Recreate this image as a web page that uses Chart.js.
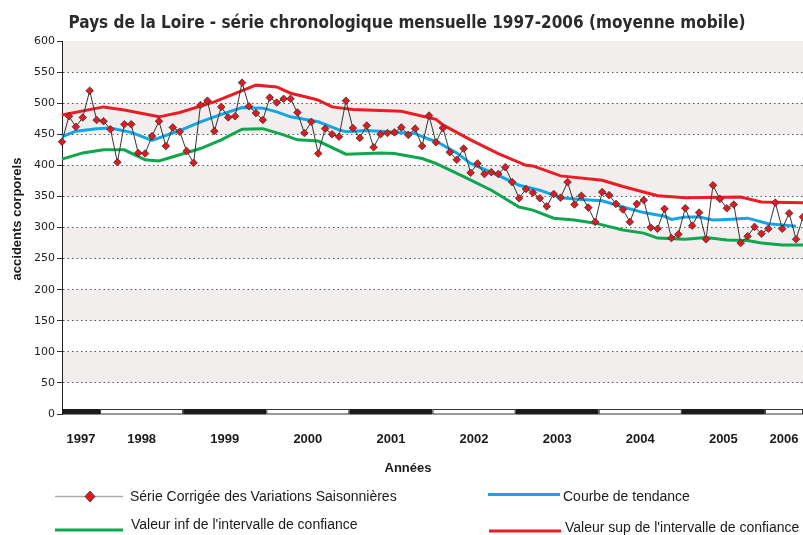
<!DOCTYPE html>
<html>
<head>
<meta charset="utf-8">
<script src="https://cdn.jsdelivr.net/npm/chart.js@4.4.1/dist/chart.umd.min.js"></script>
<style>
  html, body { margin: 0; padding: 0; background: #fff; }
  #wrap { width: 803px; height: 535px; position: relative; }
</style>
</head>
<body>
<div id="wrap"><canvas id="chart"></canvas></div>
<script>
// ============================================================
// Pays de la Loire — série mensuelle CVS + tendance (moyenne mobile)
// ============================================================

const _ = null; // mois sans sommet

const years      = ['1997', '1998', '1999', '2000', '2001', '2002', '2003', '2004', '2005', '2006'];
const firstMonth = 7;   // la série commence en juillet 1997
const yMax       = 600;
const yStep      = 50;

// Série corrigée des variations saisonnières (un point par mois)
const serieCVS = [
  438, 479, 462, 477, 520, 473,                               // 1997 (juil-déc)
  471, 458, 405, 466, 466, 420, 419, 447, 471, 431, 461, 454, // 1998
  423, 404, 497, 504, 455, 494, 477, 479, 533, 495, 484, 473, // 1999
  509, 501, 507, 507, 485, 452, 470, 419, 459, 450, 446, 504, // 2000
  460, 444, 464, 429, 450, 452, 453, 461, 449, 459, 431, 480, // 2001
  437, 460, 421, 409, 427, 388, 403, 386, 389, 386, 397, 373, // 2002
  347, 362, 356, 347, 334, 354, 348, 373, 337, 351, 332, 309, // 2003
  357, 352, 338, 329, 309, 338, 344, 300, 298, 330, 283, 289, // 2004
  331, 303, 324, 281, 368, 346, 331, 337, 275, 286, 301, 290, // 2005
  298, 340, 298, 323, 281, 317                                // 2006 (jan-juin)
];

// Courbe de tendance
const tendance = [
  446, _, 455, _, _, 459,
  _, 460, _, _, 453, _, _, 440, _, _, _, 456,
  _, _, 470, _, _, 482, _, _, 493, _, _, 492,
  _, 486, _, 478, _, 474, _, 470, _, _, 457, 454,
  _, _, 456, _, _, 454, _, _, _, 451, _, 442,
  439, _, _, 420, _, 403, _, _, _, 384, _, _,
  368, _, _, 360, _, _, 348, _, _, 345, _, _,
  343, _, _, 333, _, _, 324, _, _, 318, 313, _,
  317, _, 317, _, 312, _, 313, _, _, 315, _, _,
  306, _, _, _, 302, _
];

// Valeur inf de l'intervalle de confiance
const intervalleInf = [
  410, _, _, 420, _, _,
  425, _, _, 425, _, _, 409, _, 407, _, _, 417,
  _, _, 427, _, _, 441, _, _, 458, _, _, 459,
  _, _, 449, _, 441, _, _, 439, _, _, _, 418,
  _, _, _, _, 420, _, 419, _, _, _, 411, 407,
  403, _, _, _, 382, _, _, _, 360, _, _, _,
  333, _, 328, _, _, 315, _, _, 312, _, _, 307,
  _, _, _, 296, _, _, 291, _, 283, _, _, _,
  281, _, _, 284, _, _, 280, _, _, 279, _, 275,
  _, _, 272, _, _, 272
];

// Valeur sup de l'intervalle de confiance
const intervalleSup = [
  481, _, _, _, _, _,
  494, _, _, 489, _, _, _, _, 478, _, _, 485,
  _, _, _, _, 502, _, _, _, _, _, 529, _,
  _, 526, _, 516, _, _, 508, 505, _, 494, _, _,
  490, _, _, _, _, _, _, 487, _, _, _, _,
  474, 465, _, _, _, 441, _, _, _, 419, _, _,
  _, 400, 399, _, _, _, 383, _, _, _, _, _,
  376, _, _, 366, _, _, _, _, 351, _, _, _,
  348, _, _, _, _, _, _, _, 349, _, _, 341,
  _, _, _, _, _, 340
];

const COLORS = {
  serie:  '#333333',
  marker: '#E3191F',
  blue:   '#14A5E6',
  green:  '#0FA64D',
  red:    '#EC1C24',
  band:   '#F2EEEE',
  text:   '#1a1a1a',
};

const SANS  = '"Liberation Sans", Arial, sans-serif';
const TITLE = 'Pays de la Loire - série chronologique mensuelle 1997-2006 (moyenne mobile)';

const monthLabels = serieCVS.map((v, i) => {
  const m = firstMonth - 1 + i;
  return String(m % 12 + 1).padStart(2, '0') + '/' + (Number(years[0]) + Math.floor(m / 12));
});

// début / fin (en index de mois) de chaque année visible
function yearSpans() {
  const last = serieCVS.length - 1;
  return years.map((yr, k) => ({
    from: Math.max(0, 12 * k - (firstMonth - 1) - 0.5),
    to:   Math.min(last, 12 * (k + 1) - (firstMonth - 1) - 0.5),
  }));
}

function legendLine(ctx, x0, x1, y, color, width) {
  ctx.strokeStyle = color;
  ctx.lineWidth = width;
  ctx.beginPath();
  ctx.moveTo(x0, y);
  ctx.lineTo(x1, y);
  ctx.stroke();
}

const decor = {
  id: 'decor',
  beforeDraw(chart) {
    const { ctx, chartArea: a, scales: { y } } = chart;
    ctx.save();
    ctx.fillStyle = '#fff';
    ctx.fillRect(0, 0, chart.width, chart.height);
    // bandes grises alternées
    ctx.fillStyle = COLORS.band;
    for (let v = yStep; v < yMax; v += 2 * yStep) {
      const top = y.getPixelForValue(v + yStep);
      const bot = y.getPixelForValue(v);
      ctx.fillRect(a.left, top, a.right - a.left, bot - top);
    }
    ctx.restore();
  },
  afterDraw(chart) {
    const { ctx, chartArea: a, scales: { x } } = chart;
    ctx.save();

    // bandeau noir / blanc des années + libellés
    ctx.textAlign = 'center';
    ctx.textBaseline = 'middle';
    yearSpans().forEach((s, k) => {
      const x0 = x.getPixelForValue(s.from);
      const x1 = x.getPixelForValue(s.to);
      if (k % 2 === 0) {
        ctx.fillStyle = '#1b1b1b';
        ctx.fillRect(x0, a.bottom - 5, x1 - x0, 5.5);
      } else {
        ctx.fillStyle = '#fff';
        ctx.fillRect(x0, a.bottom - 5, x1 - x0, 5.5);
        ctx.strokeStyle = '#333';
        ctx.lineWidth = 1;
        ctx.strokeRect(x0 + 0.5, a.bottom - 4.5, x1 - x0 - 1, 4.5);
      }
      ctx.fillStyle = COLORS.text;
      ctx.font = 'bold 13px ' + SANS;
      ctx.fillText(years[k], (x0 + x1) / 2, 439);
    });

    ctx.font = 'bold 13px ' + SANS;
    ctx.fillText('Années', 408, 468);

    // titre de l'axe Y
    ctx.save();
    ctx.translate(17, 219);
    ctx.rotate(-Math.PI / 2);
    ctx.fillText('accidents corporels', 0, 0);
    ctx.restore();

    // titre
    ctx.save();
    ctx.font = 'bold 18px "DejaVu Sans", sans-serif';
    ctx.fillStyle = '#2b2b2b';
    ctx.textBaseline = 'alphabetic';
    const w = ctx.measureText(TITLE).width;
    ctx.translate(407, 28);
    ctx.scale(677 / w, 1);
    ctx.fillText(TITLE, 0, 0);
    ctx.restore();

    // légende
    legendLine(ctx, 55, 123, 496.5, '#aaaaaa', 1.5);
    ctx.beginPath();
    ctx.moveTo(90, 491); ctx.lineTo(95, 496.5); ctx.lineTo(90, 502); ctx.lineTo(85, 496.5);
    ctx.closePath();
    ctx.fillStyle = COLORS.marker;
    ctx.fill();
    ctx.strokeStyle = '#333';
    ctx.lineWidth = 0.8;
    ctx.stroke();
    legendLine(ctx, 488, 560, 494.5, COLORS.blue, 3);
    legendLine(ctx, 55, 123, 530, COLORS.green, 3);
    legendLine(ctx, 489, 561, 531, COLORS.red, 3);

    ctx.fillStyle = COLORS.text;
    ctx.font = '14px ' + SANS;
    ctx.textAlign = 'left';
    ctx.fillText('Série Corrigée des Variations Saisonnières', 130, 497);
    ctx.fillText('Courbe de tendance', 563, 497);
    ctx.fillText("Valeur inf de l'intervalle de confiance", 131, 525);
    ctx.fillText("Valeur sup de l'intervalle de confiance", 565, 528);

    ctx.restore();
  }
};

Chart.defaults.font.family = SANS;

const trendLine = (label, data, color) => ({
  label, data,
  borderColor: color,
  borderWidth: 3,
  pointRadius: 0,
  spanGaps: true,
  tension: 0,
});

new Chart(document.getElementById('chart'), {
  type: 'line',
  data: {
    labels: monthLabels,
    datasets: [
      {
        label: 'Série Corrigée des Variations Saisonnières',
        data: serieCVS,
        borderColor: COLORS.serie,
        borderWidth: 1,
        pointStyle: 'rectRot',
        pointRadius: 3.8,
        pointBackgroundColor: COLORS.marker,
        pointBorderColor: '#333',
        pointBorderWidth: 0.8,
        tension: 0,
      },
      trendLine('Courbe de tendance', tendance, COLORS.blue),
      trendLine("Valeur sup de l'intervalle de confiance", intervalleSup, COLORS.red),
      trendLine("Valeur inf de l'intervalle de confiance", intervalleInf, COLORS.green),
    ]
  },
  options: {
    responsive: true,
    maintainAspectRatio: false,
    animation: false,
    devicePixelRatio: 1,
    layout: { autoPadding: false, padding: { top: 41, right: 0, bottom: 121, left: 0 } },
    plugins: {
      legend: { display: false },
      tooltip: { enabled: false },
    },
    scales: {
      x: {
        type: 'category',
        display: false,
        offset: false,
      },
      y: {
        min: 0,
        max: yMax,
        afterFit: scale => { scale.width = 62; },
        ticks: {
          stepSize: yStep,
          color: '#222',
          padding: 2,
          font: { size: 11, family: '"DejaVu Sans", sans-serif' },
        },
        grid: {
          color: c => (c.tick && c.tick.value > 0 && c.tick.value < yMax) ? '#555' : 'rgba(0,0,0,0)',
          lineWidth: 1,
          tickLength: 5,
          tickColor: '#333',
          tickWidth: 1,
          tickBorderDash: [],
        },
        border: { display: true, color: '#222', width: 1, dash: [1.5, 3] },
      }
    }
  },
  plugins: [decor]
});
</script>
</body>
</html>
